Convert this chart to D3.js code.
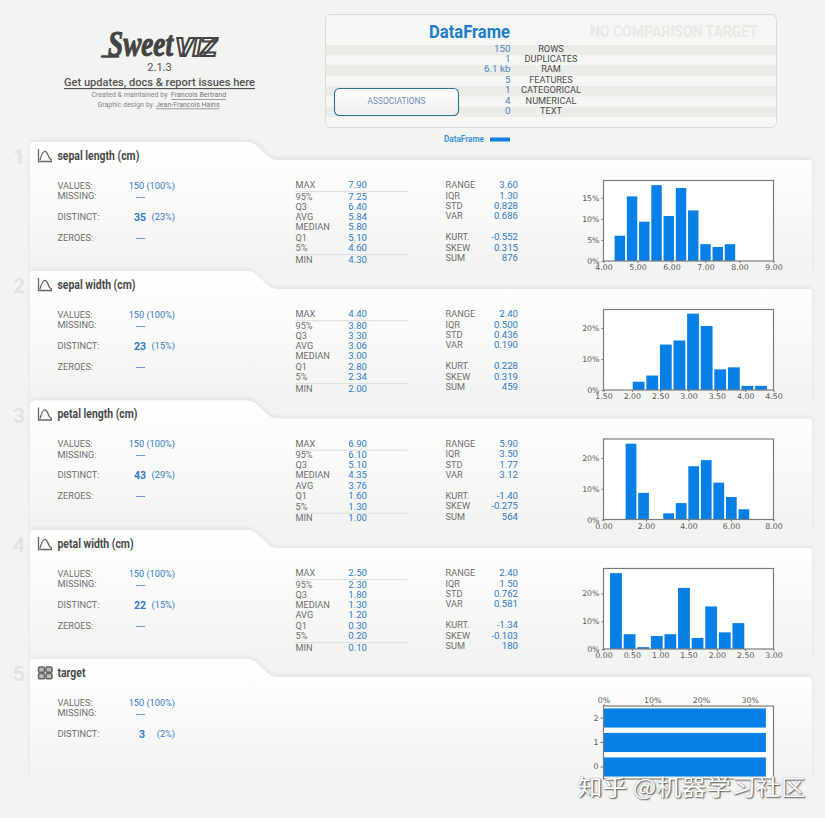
<!DOCTYPE html>
<html><head><meta charset="utf-8">
<style>html,body{margin:0;padding:0;background:#f3f3f1;overflow:hidden}svg{display:block}</style>
<script src="https://cdn.jsdelivr.net/npm/d3@7/dist/d3.min.js"></script>
</head><body><div id="c"></div>
<script>
// ---------- data ----------
const featureNames = ["sepal length (cm)","sepal width (cm)","petal length (cm)","petal width (cm)"];
const statLabelsSL = ["MAX","95%","Q3","AVG","MEDIAN","Q1","5%","MIN"];
const statLabelsPL = ["MAX","95%","Q3","MEDIAN","AVG","Q1","5%","MIN"];
const statLabelSets = [statLabelsSL,statLabelsSL,statLabelsPL,statLabelsPL];
const quantiles = [
 ["7.90","7.25","6.40","5.84","5.80","5.10","4.60","4.30"],
 ["4.40","3.80","3.30","3.06","3.00","2.80","2.34","2.00"],
 ["6.90","6.10","5.10","4.35","3.76","1.60","1.30","1.00"],
 ["2.50","2.30","1.80","1.30","1.20","0.30","0.20","0.10"]];
const momentLabels = ["RANGE","IQR","STD","VAR","KURT.","SKEW","SUM"];
const moments = [
 ["3.60","1.30","0.828","0.686","-0.552","0.315","876"],
 ["2.40","0.500","0.436","0.190","0.228","0.319","459"],
 ["5.90","3.50","1.77","3.12","-1.40","-0.275","564"],
 ["2.40","1.50","0.762","0.581","-1.34","-0.103","180"]];
const distinctCounts = ["35","23","43","22","3"];
const distinctPcts = ["(23%)","(15%)","(29%)","(15%)","(2%)"];
const binEdges = [
 [4.3,4.66,5.02,5.38,5.74,6.1,6.46,6.82,7.18,7.54,7.9],
 [2.0,2.24,2.48,2.72,2.96,3.2,3.44,3.68,3.92,4.16,4.4],
 [1.0,1.59,2.18,2.77,3.36,3.95,4.54,5.13,5.72,6.31,6.9],
 [0.1,0.34,0.58,0.82,1.06,1.3,1.54,1.78,2.02,2.26,2.5]];
const binPercents = [
 [6,15.33,9.33,18,10.67,17.33,12,4,3.33,4],
 [2.67,4.67,14.67,16,24.67,20.67,6.67,7.33,1.33,1.33],
 [24.67,8.67,0,2,5.33,17.33,19.33,12,7.33,3.33],
 [27.33,5.33,0.67,4.67,5.33,22,4,15.33,6,9.33]];
const xTicks = [[4,5,6,7,8,9],[1.5,2,2.5,3,3.5,4,4.5],[0,2,4,6,8],[0,0.5,1,1.5,2,2.5,3]];
const xDomains = [[4,9],[1.5,4.5],[0,8],[0,3]];
const yTicks = [[0,5,10,15],[0,10,20],[0,10,20],[0,10,20]];
const yMax = [19.1,26,26.2,29];
const targetCats = ["2","1","0"];
const targetPercents = [33.33,33.33,33.33];
const targetTicks = [0,10,20,30];
const summaryValues = ["150","1","6.1 kb","5","1","4","0"];
const summaryLabels = ["ROWS","DUPLICATES","RAM","FEATURES","CATEGORICAL","NUMERICAL","TEXT"];

// ---------- setup ----------
const W=825,H=818, blue="#2f7cc8", grey="#6e6e6e", barBlue="#0680e6";
const FONT="Roboto, sans-serif";
const svg=d3.select("#c").append("svg").attr("width",W).attr("height",H).attr("viewBox",`0 0 ${W} ${H}`);
svg.append("rect").attr("width",W).attr("height",H).attr("fill","#f3f3f1");
const defs=svg.append("defs");
const g=defs.append("linearGradient").attr("id","cardG").attr("x1",0).attr("x2",0).attr("y1",0).attr("y2",1);
g.append("stop").attr("offset","0").attr("stop-color","#ffffff");
g.append("stop").attr("offset","0.35").attr("stop-color","#fbfbfa");
g.append("stop").attr("offset","0.92").attr("stop-color","#f3f3f1");
const b=defs.append("linearGradient").attr("id","btnG").attr("x1",0).attr("x2",0).attr("y1",0).attr("y2",1);
b.append("stop").attr("offset","0").attr("stop-color","#ffffff");
b.append("stop").attr("offset","1").attr("stop-color","#eeeeee");
const f=defs.append("filter").attr("id","soft").attr("x","-5%").attr("y","-8%").attr("width","110%").attr("height","112%");
f.append("feDropShadow").attr("dx",0).attr("dy",-2).attr("stdDeviation",2.2).attr("flood-color","#000").attr("flood-opacity",0.07);

function T(sel,x,y,s,o={}){
  const t=sel.append("text").attr("x",x).attr("y",y).text(s)
   .attr("font-family",o.family||FONT).attr("font-size",o.size||9.2).attr("font-weight",o.weight||400)
   .attr("fill",o.fill||grey).attr("text-anchor",o.anchor||"start").attr("dominant-baseline","central");
  if(o.len) t.attr("textLength",o.len).attr("lengthAdjust","spacingAndGlyphs");
  if(o.style) t.attr("font-style",o.style);
  if(o.deco) t.attr("text-decoration",o.deco);
  return t;
}

// ---------- header ----------
const hd=svg.append("g");
const logo=hd.append("g");
logo.append("path").attr("d","M102 56.5 H118").attr("stroke","#444").attr("stroke-width",2.6).attr("stroke-linecap","round");
T(logo,108,44,"Sweet",{family:"'Liberation Serif',serif",size:36,weight:700,style:"italic",fill:"#444",len:65}).attr("stroke","#444").attr("stroke-width",1.1);
T(logo,175.5,47.5,"VIZ",{family:"Roboto",size:25,weight:900,style:"italic",fill:"#f7f7f5",len:41}).attr("stroke","#444").attr("stroke-width",2);
T(hd,159.5,67,"2.1.3",{size:11,weight:400,fill:"#555",anchor:"middle"});
T(hd,159.5,82,"Get updates, docs & report issues here",{size:11.5,weight:500,fill:"#555",anchor:"middle",deco:"underline",len:191});
T(hd,91.5,95,"Created & maintained by",{size:7,weight:400,fill:"#888"});
T(hd,171,95,"Francois Bertrand",{size:7,weight:400,fill:"#777",deco:"underline"});
T(hd,97.5,104.5,"Graphic design by",{size:7,weight:400,fill:"#888"});
T(hd,156,104.5,"Jean-Francois Hains",{size:7,weight:400,fill:"#777",deco:"underline"});

// summary panel
hd.append("rect").attr("x",325.5).attr("y",14.5).attr("width",451).attr("height",113).attr("rx",5)
  .attr("fill","#f6f6f4").attr("stroke","#dcdcd9");
const rowYs=[50,60,70.3,80.8,91.3,101.7,111.7];
rowYs.forEach((y,i)=>{ if(i%2==0) hd.append("rect").attr("x",326).attr("y",y-5).attr("width",450).attr("height",10.2).attr("fill","#ebebe8"); });
T(hd,510,31,"DataFrame",{size:18,weight:700,fill:"#1f7cc9",anchor:"end",len:81});
T(hd,674,31,"NO COMPARISON TARGET",{size:16.5,weight:700,fill:"#e9e9e6",anchor:"middle",len:168});
const sumYs=[48.5,58.5,68.8,79.3,89.8,100.2,110.5];
summaryValues.forEach((v,i)=>T(hd,510.5,sumYs[i],v,{size:9.8,fill:"#4a82c4",anchor:"end"}));
summaryLabels.forEach((v,i)=>T(hd,551,sumYs[i],v,{size:9.2,fill:"#4c4c4c",anchor:"middle"}));
hd.append("rect").attr("x",334.5).attr("y",88.5).attr("width",124).attr("height",27).attr("rx",5)
  .attr("fill","url(#btnG)").attr("stroke","#2d7196").attr("stroke-width",1.1);
T(hd,396.5,101,"ASSOCIATIONS",{size:8.4,weight:400,fill:"#6f8fbd",anchor:"middle"});
T(hd,484,138.5,"DataFrame",{size:8.2,weight:700,fill:"#3f95d8",anchor:"end"});
hd.append("rect").attr("x",490).attr("y",137.5).attr("width",20).attr("height",4).attr("fill","#1080de");

// ---------- cards ----------
const offsets=[0,129,258.5,388,517];

function drawCard(i,name){
  const dy=offsets[i], c=svg.append("g").attr("transform",`translate(0,${dy})`);
  const bottom=i==4?264:273;
  const shape=`M30 ${bottom} V146 Q30 142 34 142 H248 Q252 142 255 144.5 L268 156.5 Q272 160 277 160 H808 Q812 160 812 164 V${bottom} Z`;
  c.append("path").attr("d",shape).attr("fill","url(#cardG)").attr("filter","url(#soft)");
  T(c,19,157,String(i+1),{size:21,weight:700,fill:"#e3e3e0",anchor:"middle"});
  const title=T(c,57.5,155.5,name,{size:12,weight:700,fill:"#4a4a4a"});
  title.attr("textLength",title.node().getComputedTextLength()*0.87).attr("lengthAdjust","spacingAndGlyphs");
  const ic=c.append("g");
  if(i<4){
    ic.append("path").attr("d","M38.5 149 V161.5 H52 M40 160 C43 149 46 150 48 155 C49 158 50 160 52 160")
      .attr("fill","none").attr("stroke","#666").attr("stroke-width",1.3);
  } else {
    [[38.5,150],[46,150],[38.5,156.5],[46,156.5]].forEach(p=>ic.append("rect").attr("x",p[0]).attr("y",p[1]).attr("width",6).attr("height",5.3).attr("rx",1.4)
      .attr("fill","#bbb").attr("stroke","#666").attr("stroke-width",1.6));
  }
  // left stats
  T(c,57.5,185.3,"VALUES:"); T(c,57.5,195.5,"MISSING:"); T(c,57.5,216.3,"DISTINCT:");
  T(c,175,185.3,"150 (100%)",{anchor:"end",fill:blue});
  T(c,140.5,196,"---",{anchor:"middle",fill:blue,weight:500});
  T(c,i==4?142:140,217,distinctCounts[i],{anchor:"middle",fill:blue,size:10.5,weight:700});
  T(c,175,216.3,distinctPcts[i],{anchor:"end",fill:blue});
  if(i<4){ T(c,57.5,237.3,"ZEROES:"); T(c,140.5,237.3,"---",{anchor:"middle",fill:blue,weight:500}); }
  return c;
}

const qYs=[184.5,196,206,216.2,226.8,237.2,247.8,259];
const mYs=[184.5,195.2,205.5,215.5,236.5,247.2,257.5];
const PL=603.5,PR=773.5,PT=180.5,PB=261, GAP=0.9;

function styleAxis(a){
  a.selectAll("text").attr("font-family","'DejaVu Sans',sans-serif").attr("font-size",7.8).attr("fill","#5a5a5a");
  a.selectAll("line").attr("stroke","#777");
  a.select(".domain").remove();
}

featureNames.forEach((name,i)=>{
  const c=drawCard(i,name);
  statLabelSets[i].forEach((l,k)=>{
    T(c,295.5,qYs[k],l);
    T(c,367,qYs[k],quantiles[i][k],{anchor:"end",fill:blue,size:9.6});
  });
  [191.7,254.7].forEach(y=>c.append("line").attr("x1",295).attr("x2",407.5).attr("y1",y).attr("y2",y).attr("stroke","#dcdcda"));
  momentLabels.forEach((l,k)=>{
    T(c,445.5,mYs[k],l);
    T(c,518,mYs[k],moments[i][k],{anchor:"end",fill:blue,size:9.6});
  });
  // histogram
  const x=d3.scaleLinear().domain(xDomains[i]).range([PL,PR]);
  const y=d3.scaleLinear().domain([0,yMax[i]]).range([PB,PT]);
  const data=binPercents[i].map((v,k)=>({v,x0:binEdges[i][k],x1:binEdges[i][k+1]}));
  c.append("rect").attr("x",PL).attr("y",PT).attr("width",PR-PL).attr("height",PB-PT).attr("fill","#fff");
  c.append("g").selectAll("rect").data(data).join("rect")
    .attr("x",d=>x(d.x0)+GAP).attr("width",d=>x(d.x1)-x(d.x0)-2*GAP)
    .attr("y",d=>y(d.v)).attr("height",d=>PB-y(d.v))
    .attr("fill",barBlue);
  c.append("rect").attr("x",PL).attr("y",PT).attr("width",PR-PL).attr("height",PB-PT).attr("fill","none").attr("stroke","#7c7c7c").attr("stroke-width",1.2);
  const ax=c.append("g").attr("transform",`translate(0,${PB})`)
    .call(d3.axisBottom(x).tickValues(xTicks[i]).tickFormat(d3.format(".2f")).tickSize(2).tickPadding(1.5));
  styleAxis(ax);
  const ay=c.append("g").attr("transform",`translate(${PL},0)`)
    .call(d3.axisLeft(y).tickValues(yTicks[i]).tickFormat(d=>d+"%").tickSize(2).tickPadding(2));
  styleAxis(ay);
});

// target card
(function(){
  const c=drawCard(4,"target");
  const PT5=189, PB5=262;
  const x=d3.scaleLinear().domain([0,34.9]).range([PL,PR]);
  const y=d3.scaleBand().domain(targetCats).range([PT5,PB5]).paddingInner(0.22).paddingOuter(0.1);
  c.append("rect").attr("x",PL).attr("y",PT5).attr("width",PR-PL).attr("height",PB5-PT5).attr("fill","#fff");
  c.append("g").selectAll("rect").data(targetCats).join("rect")
    .attr("x",PL).attr("y",d=>y(d)).attr("height",y.bandwidth())
    .attr("width",(d,k)=>x(targetPercents[k])-PL).attr("fill",barBlue);
  c.append("rect").attr("x",PL).attr("y",PT5).attr("width",PR-PL).attr("height",PB5-PT5).attr("fill","none").attr("stroke","#7c7c7c").attr("stroke-width",1.2);
  const ax=c.append("g").attr("transform",`translate(0,${PT5})`)
    .call(d3.axisTop(x).tickValues(targetTicks).tickFormat(d=>d+"%").tickSize(2).tickPadding(1.5));
  styleAxis(ax);
  const ay=c.append("g").attr("transform",`translate(${PL},0)`)
    .call(d3.axisLeft(y).tickSize(3).tickPadding(2));
  styleAxis(ay);
})();

// watermark
const wm=T(svg,691.5,785,"知乎 @机器学习社区",{family:"'Noto Sans CJK SC',sans-serif",size:22,weight:400,fill:"#fff",anchor:"middle",len:228});
wm.style("text-shadow","1px 1px 1.5px #555, 0 0 1px #888");
</script></body></html>
